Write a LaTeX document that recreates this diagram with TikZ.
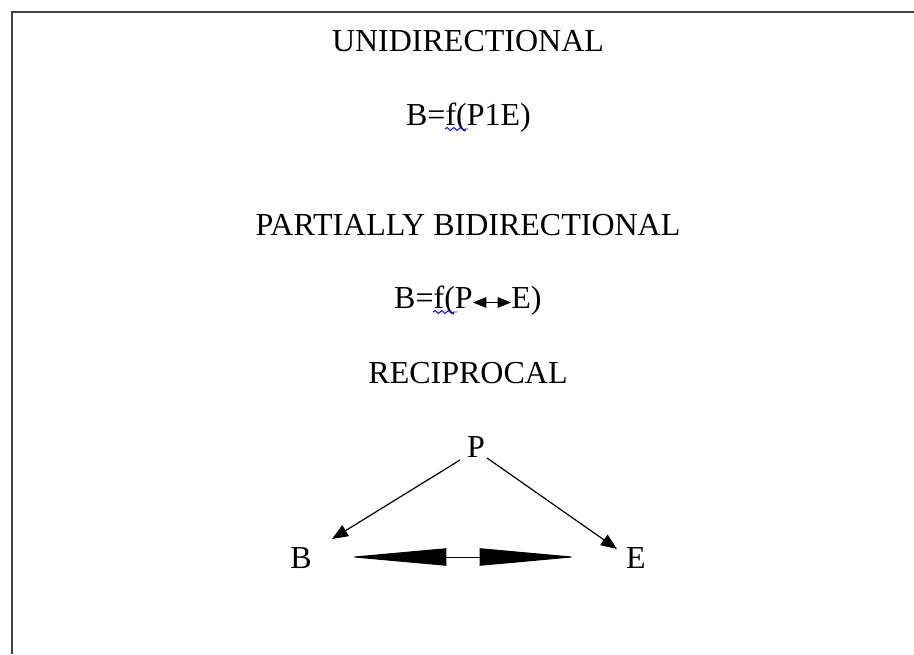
\documentclass[tikz,border=0pt]{standalone}
\usepackage{fontspec}
\setmainfont{Liberation Serif}
\usetikzlibrary{arrows.meta,decorations.pathmorphing,calc}
\definecolor{framegray}{RGB}{64,64,64}
\begin{document}
\begin{tikzpicture}[x=0.75pt,y=-0.75pt,
  lbl/.style={inner sep=0pt,font=\fontsize{24}{28}\selectfont},
  frame/.style={line width=1.5pt,draw=framegray},
  conn/.style={line width=0.9pt,-{Triangle[length=12pt,width=9.5pt]}},
  spike/.style={line width=0.75pt,{Triangle[length=73pt,width=13pt]}-{Triangle[length=73pt,width=13pt]}},
  minidbl/.style={line width=0.6pt,{Triangle[length=10pt,width=8pt]}-{Triangle[length=10pt,width=8pt]}},
  spell/.style={draw=blue,line width=0.7pt,decorate,decoration={snake,segment length=5pt,amplitude=1.1pt}}]
\useasboundingbox (0,0) rectangle (914,654);
\draw[frame] (12,654) -- (12,12) -- (914,12);

\node[lbl,anchor=base] (t1) at (468,51) {UNIDIRECTIONAL};
\node[lbl,anchor=base] (f1) at (468.5,125) {B=f(P1E)};
\node[lbl,anchor=base] (t2) at (468,235) {PARTIALLY BIDIRECTIONAL};
\node[lbl,anchor=base east] (f2l) at (473,308) {B=f(P};
\node[lbl,anchor=base west] (f2r) at (511,308) {E)};
\node[lbl,anchor=base] (t3) at (468,383) {RECIPROCAL};
\node[lbl,anchor=base] (P) at (476,457) {P};
\node[lbl,anchor=base] (B) at (301,568) {B};
\node[lbl,anchor=base] (E) at (636,568) {E};

\draw[spell] (445,129) -- (468,129);
\draw[spell] (433,312) -- (457,312);

\draw[minidbl] ($(f2l.base east)+(0,-5.5)$) -- ($(f2r.base west)+(0,-5.5)$);

\coordinate (pb) at (460,460);
\coordinate (pbt) at (332,539);
\coordinate (pe) at (487,458);
\coordinate (pet) at (617,549);
\draw[conn] (pb) -- (pbt);
\draw[conn] (pe) -- (pet);

\coordinate (bl) at (349,557);
\coordinate (er) at (577,557);
\draw[spike] (bl) -- (er);
\end{tikzpicture}
\end{document}
